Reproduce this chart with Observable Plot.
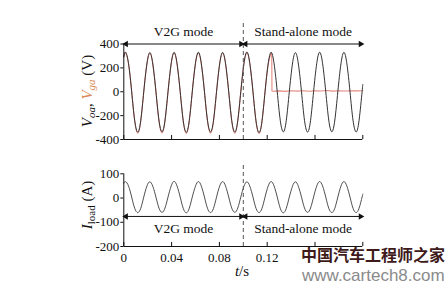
<!DOCTYPE html>
<html><head><meta charset="utf-8">
<script src="https://cdn.jsdelivr.net/npm/d3@7"></script>
<script src="https://cdn.jsdelivr.net/npm/@observablehq/plot@0.6"></script>
<style>
body{margin:0;background:#fff}
#wrap{position:relative;width:448px;height:292px;overflow:hidden;background:#fff}
#top,#bot{position:absolute;left:0}
#top{top:0}#bot{top:150px}
.wm1{position:absolute;left:301px;top:246px;font:bold 16px "Noto Sans CJK SC";color:#3e1a1a;line-height:16px;white-space:nowrap}
.wm2{position:absolute;left:302px;top:268px;font:17px "Liberation Sans";color:#8a8a8a;line-height:16px;white-space:nowrap}
</style></head><body>
<div id="wrap"><div id="top"></div><div id="bot"></div>
<div class="wm1">中国汽车工程师之家</div><div class="wm2">www.cartech8.com</div></div>
<script>
// ---- data ----
const tOut = [0,
 0.0015,0.0040,0.0066,0.0091,0.0117,0.0142,0.0167,0.0193,
 0.0218,0.0243,0.0269,0.0294,0.0320,0.0345,0.0370,0.0396,
 0.0421,0.0446,0.0472,0.0497,0.0523,0.0548,0.0573,0.0599,
 0.0624,0.0649,0.0675,0.0700,0.0726,0.0751,0.0776,0.0802,
 0.0827,0.0852,0.0878,0.0903,0.0929,0.0954,0.0979,0.1005,
 0.1030,0.1055,0.1081,0.1106,0.1132,0.1157,0.1182,0.1208,
 0.1233,0.1258,0.1284,0.1309,0.1335,0.1360,0.1385,0.1411,
 0.1436,0.1461,0.1487,0.1512,0.1538,0.1563,0.1588,0.1614,
 0.1639,0.1664,0.1690,0.1715,0.1741,0.1766,0.1791,0.1817,
 0.1842,0.1867,0.1893,0.1918,0.1944,0.1969,0.1994,
 0.2];
// V_oa (V)
const vOut = [295,
 332,234,0,-239,-338,-239,0,232,
 328,232,0,-237,-335,-237,0,233,
 330,233,0,-240,-340,-240,0,234,
 331,234,0,-238,-336,-238,0,233,
 329,233,0,-239,-338,-239,0,235,
 333,235,0,-242,-342,-242,0,233,
 330,233,0,-238,-336,-238,0,232,
 328,232,0,-239,-338,-239,0,234,
 331,234,0,-237,-335,-237,0,233,
 330,233,0,-238,-337,-238,0,
 61];
// V_ga (V): follows the output voltage until the grid is disconnected
const tGridSine = tOut.slice(0, 50);
const vGridSine = [290,
 325,230,0,-245,-348,-245,0,229,
 323,229,0,-244,-346,-244,0,230,
 324,230,0,-246,-349,-246,0,231,
 325,230,0,-245,-347,-245,0,230,
 324,230,0,-245,-348,-245,0,231,
 326,231,0,-246,-350,-246,0,230,
 325];
const tGridFlat = [0.1233,0.1238,0.1240,0.1250,0.1300,0.1350,0.1400,0.1450,0.1500,0.1550,0.1600,0.1650,0.1700,0.1750,0.1800,0.1850,0.1900,0.1950,0.2000];
const vGridFlat = [325,322,6,4,7,3,8,5,9,4,7,6,10,5,8,6,9,7,8];
// I_load (A)
const iLoad = [61,
 68,49,4,-42,-60,-42,4,49,
 67,48,4,-41,-59,-41,4,49,
 69,49,4,-42,-61,-42,4,48,
 68,49,4,-42,-60,-42,4,49,
 68,49,4,-41,-59,-41,4,48,
 67,48,4,-42,-60,-42,4,49,
 68,49,4,-42,-61,-42,4,48,
 67,48,4,-41,-59,-41,4,49,
 68,49,4,-42,-60,-42,4,49,
 68,49,4,-42,-60,-42,4,
 16];
const modes = [{label:"V2G mode", t0:0, t1:0.1},{label:"Stand-alone mode", t0:0.1, t1:0.2}];
const vTicks = [-400,-200,0,200,400];
const iTicks = [-200,-100,0,100];
const xTicks = [0,0.04,0.08,0.12,0.16,0.2];
const xTickLabels = [0,0.04,0.08,0.12]; // 0.16 and 0.2 are hidden under the watermark
const switchT = 0.1;

// ---- tables ----
const out = tOut.map((t,i)=>({t, v:vOut[i]}));
const gridSine = tGridSine.map((t,i)=>({t, v:vGridSine[i]}));
const gridFlat = tGridFlat.map((t,i)=>({t, v:vGridFlat[i]}));
const load = tOut.map((t,i)=>({t, v:iLoad[i]}));

const font = '"Liberation Serif", "Times New Roman", serif';
const style = {fontFamily:font, fontSize:"13px", background:"transparent", color:"#111", overflow:"visible"};
const ink = "#111";

function arrowMarks(yLevel, yText){
  return [
    Plot.link(modes,{x1:"t0",x2:"t1",y1:yLevel,y2:yLevel,stroke:ink,strokeWidth:1}),
    Plot.dot(modes,{x:"t1",y:yLevel,symbol:"triangle",rotate:90,r:2.4,fill:ink,stroke:null,dx:-2.2}),
    Plot.dot(modes,{x:"t0",y:yLevel,symbol:"triangle",rotate:-90,r:2.4,fill:ink,stroke:null,dx:2.2}),
    Plot.text(modes,{x:d=>(d.t0+d.t1)/2,y:yText,text:"label",fontSize:13.5,fill:ink})
  ];
}

const topPlot = Plot.plot({
  width:448, height:150, marginTop:43.5, marginBottom:11, marginLeft:123.3, marginRight:85.7,
  x:{domain:[0,0.2], axis:null},
  y:{domain:[-400,400]},
  style,
  marks:[
    Plot.axisY({ticks:vTicks, tickSize:3, tickPadding:1.5, tickFormat:d=>String(d), label:null, fontSize:13}),
    Plot.line(gridSine,{x:"t",y:"v",curve:"natural",stroke:"#e68a80",strokeWidth:1.1}),
    Plot.line(gridFlat,{x:"t",y:"v",stroke:"#e68a80",strokeWidth:1.1}),
    Plot.line(out,{x:"t",y:"v",curve:"natural",stroke:"#333",strokeWidth:1}),
    Plot.ruleX(xTicks,{y1:-400,y2:-366,stroke:ink}),
    Plot.ruleX([0],{y1:-400,y2:400,stroke:ink}),
    Plot.ruleY([-400],{stroke:ink}),
    Plot.ruleX([switchT],{y1:-400,y2:590,stroke:"#555",strokeDasharray:"4,3"}),
    ...arrowMarks(400, 505)
  ]
});

const botPlot = Plot.plot({
  width:448, height:142, marginTop:23.3, marginBottom:46, marginLeft:123.3, marginRight:85.7,
  x:{domain:[0,0.2]},
  y:{domain:[-200,100]},
  style,
  marks:[
    Plot.axisY({ticks:iTicks, tickSize:3, tickPadding:1.5, tickFormat:d=>String(d), label:null, fontSize:13}),
    Plot.axisX({ticks:xTickLabels, tickSize:0, tickPadding:6, tickFormat:d=>String(d), label:null, fontSize:13}),
    Plot.line(load,{x:"t",y:"v",curve:"natural",stroke:"#505050",strokeWidth:1}),
    Plot.ruleX(xTicks,{y1:-200,y2:-183,stroke:ink}),
    Plot.ruleX([0],{y1:-200,y2:100,stroke:ink}),
    Plot.ruleY([-200],{stroke:ink}),
    Plot.ruleX([switchT],{y1:-200,y2:135,stroke:"#555",strokeDasharray:"4,3"}),
    ...arrowMarks(-76, -127)
  ]
});

document.getElementById("top").appendChild(topPlot);
document.getElementById("bot").appendChild(botPlot);

// axis titles with sub-scripts
const tl = d3.select(topPlot).append("text")
  .attr("transform","translate(92,91) rotate(-90)")
  .attr("text-anchor","middle").attr("font-family",font).attr("font-size",15).attr("fill",ink);
tl.append("tspan").attr("font-style","italic").text("V");
tl.append("tspan").attr("font-style","italic").attr("font-size",11).attr("dy",3).text("oa");
tl.append("tspan").attr("dy",-3).text(", ");
tl.append("tspan").attr("font-style","italic").attr("fill","#d98a55").text("V");
tl.append("tspan").attr("font-style","italic").attr("font-size",11).attr("fill","#d98a55").attr("dy",3).text("ga");
tl.append("tspan").attr("dy",-3).text(" (V)");

const bl = d3.select(botPlot).append("text")
  .attr("transform","translate(92,55) rotate(-90)")
  .attr("text-anchor","middle").attr("font-family",font).attr("font-size",15).attr("fill",ink);
bl.append("tspan").attr("font-style","italic").text("I");
bl.append("tspan").attr("font-size",11).attr("dy",3).text("load");
bl.append("tspan").attr("dy",-3).text(" (A)");

const xl = d3.select(botPlot).append("text")
  .attr("x",242).attr("y",126)
  .attr("text-anchor","middle").attr("font-family",font).attr("font-size",15).attr("fill",ink);
xl.append("tspan").attr("font-style","italic").text("t");
xl.append("tspan").text("/s");
</script></body></html>
